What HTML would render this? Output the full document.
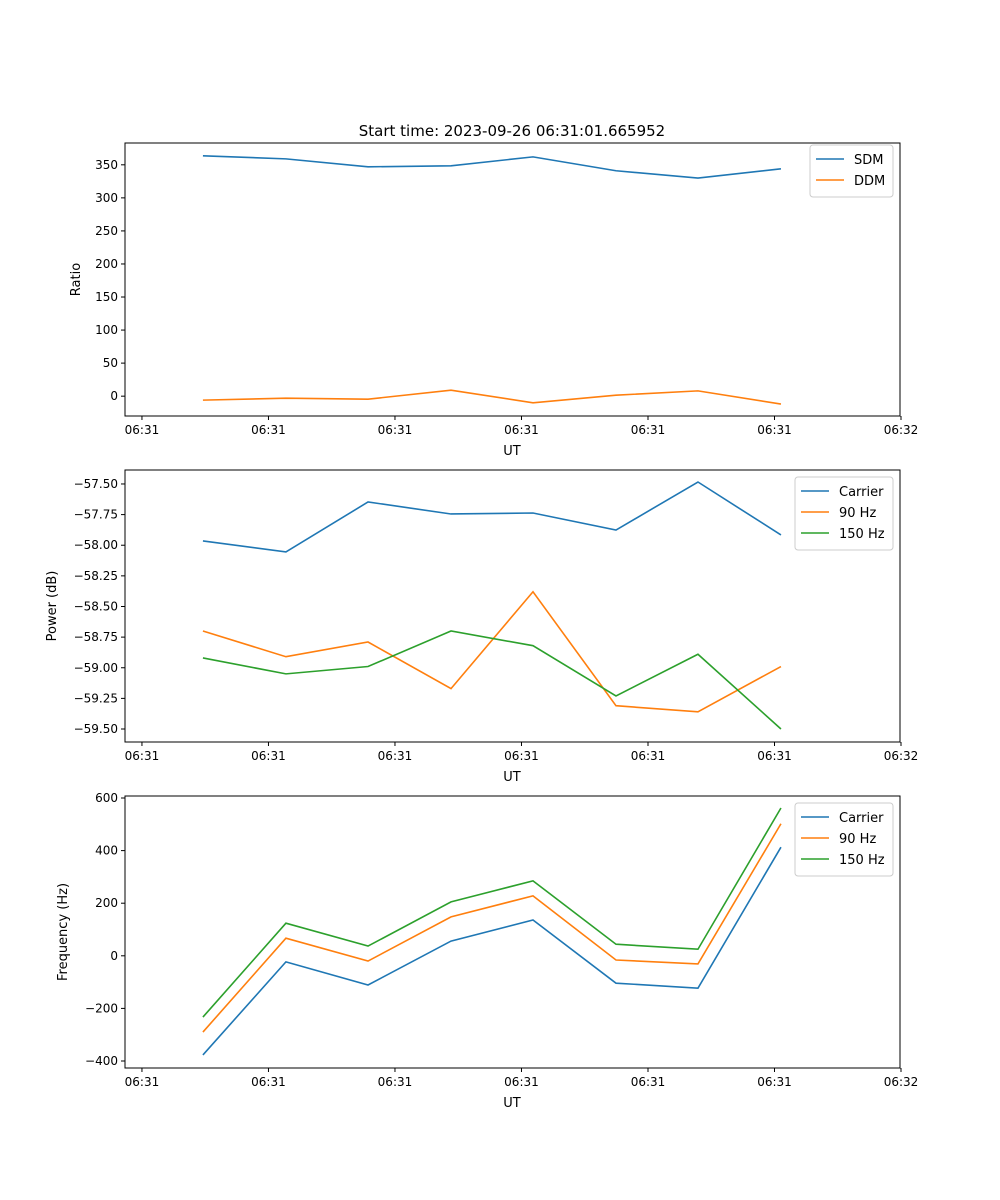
<!DOCTYPE html>
<html><head><meta charset="utf-8"><style>
body{margin:0;background:#fff}
svg{display:block;font-family:"DejaVu Sans","Liberation Sans",sans-serif}
</style></head><body>
<svg id="fig" width="1000" height="1200" viewBox="0 0 1000 1200" xmlns="http://www.w3.org/2000/svg">
<rect width="1000" height="1200" fill="#fff"/>
<text x="512" y="136" font-size="15" text-anchor="middle">Start time: 2023-09-26 06:31:01.665952</text>
</svg>
<script>
const xTicks=[0,1,2,3,4,5,6];
const xTickLabels=["06:31","06:31","06:31","06:31","06:31","06:31","06:32"];
const xVals=[0.482,1.138,1.787,2.443,3.091,3.747,4.395,5.051];
const sdm=[363.6,359,347,348.5,362,341,330,344];
const ddm=[-6,-3,-4.5,9,-10,1.5,8,-12];
const ratioTicks=[0,50,100,150,200,250,300,350];
const powCarrier=[-57.965,-58.055,-57.647,-57.745,-57.737,-57.876,-57.484,-57.916];
const pow90=[-58.70,-58.91,-58.79,-59.17,-58.38,-59.31,-59.36,-58.99];
const pow150=[-58.92,-59.05,-58.99,-58.70,-58.82,-59.23,-58.89,-59.50];
const powTicks=[-59.5,-59.25,-59.0,-58.75,-58.5,-58.25,-58.0,-57.75,-57.5];
const freqCarrier=[-377,-23,-111,56,136,-104,-123,413];
const freq90=[-290,67,-20,148,228,-16,-31,502];
const freq150=[-233,124,37,205,285,44,25,562];
const freqTicks=[-400,-200,0,200,400,600];

const NS="http://www.w3.org/2000/svg";
const svg=document.getElementById('fig');
function mk(tag,attrs,parent){const e=document.createElementNS(NS,tag);for(const k in attrs)e.setAttribute(k,attrs[k]);(parent||svg).appendChild(e);return e;}
const L=125,R=900,XMIN=-0.134,XMAX=5.992;
const xs=v=>L+(v-XMIN)/(XMAX-XMIN)*(R-L);

function panel(name,top,bot,ymin,ymax,yticks,fmt,ylabel,series,legend){
  const ys=v=>bot-(v-ymin)/(ymax-ymin)*(bot-top);
  const g=mk('g',{});
  
  
  series.forEach(s=>{
    const p=mk('polyline',{points:xVals.map((x,i)=>xs(x)+','+ys(s.v[i])).join(' '),fill:'none',stroke:s.c,'stroke-width':1.6},g);
    
    
  });
  const fr=mk('rect',{x:L,y:top,width:R-L,height:bot-top,fill:'none',stroke:'#000','stroke-width':1},g);
  
  
  xTicks.forEach((t,i)=>{
    const x=xs(t);
    mk('line',{x1:x,x2:x,y1:bot,y2:bot+4,stroke:'#000'},g);
    const tx=mk('text',{x:x,y:bot+18,'font-size':12,'text-anchor':'middle'},g);
    tx.textContent=xTickLabels[i];
    
    
  });
  yticks.forEach(t=>{
    const y=ys(t);
    mk('line',{x1:L-4,x2:L,y1:y,y2:y,stroke:'#000'},g);
    const tx=mk('text',{x:L-7,y:y+4,'font-size':12,'text-anchor':'end'},g);
    tx.textContent=fmt(t);
    
    
  });
  const xl=mk('text',{x:512,y:bot+39,'font-size':13,'text-anchor':'middle'},g);
  xl.textContent='UT';
  
  
  const cy=(top+bot)/2;
  const yl=mk('text',{x:0,y:0,'font-size':13,'text-anchor':'middle',transform:`translate(${legend.yx},${cy}) rotate(-90)`},g);
  yl.textContent=ylabel;
  
  
  const lg=mk('g',{},g);
  
  
  mk('rect',{x:legend.x,y:legend.y,width:legend.w,height:series.length*21+10,rx:3,fill:'#fff',stroke:'#ccc'},lg);
  series.forEach((s,i)=>{
    const y=legend.y+14+i*21;
    mk('line',{x1:legend.x+6,x2:legend.x+34,y1:y,y2:y,stroke:s.c,'stroke-width':1.6},lg);
    const t=mk('text',{x:legend.x+44,y:y+5,'font-size':13},lg);
    t.textContent=s.n;
    
    
  });
}
const B='#1f77b4',O='#ff7f0e',G='#2ca02c';
panel('ratio',143,416,-30,383,ratioTicks,v=>String(v),'Ratio',
 [{n:'SDM',v:sdm,c:B},{n:'DDM',v:ddm,c:O}],{x:810,y:145,w:83,yx:80});
panel('power',470,742,-59.606,-57.386,powTicks,v=>'\u2212'.repeat(v<0?1:0)+Math.abs(v).toFixed(2),'Power (dB)',
 [{n:'Carrier',v:powCarrier,c:B},{n:'90 Hz',v:pow90,c:O},{n:'150 Hz',v:pow150,c:G}],{x:795,y:477,w:98,yx:56});
panel('frequency',796,1068,-426.6,607.6,freqTicks,v=>(v<0?'\u2212':'')+Math.abs(v),'Frequency (Hz)',
 [{n:'Carrier',v:freqCarrier,c:B},{n:'90 Hz',v:freq90,c:O},{n:'150 Hz',v:freq150,c:G}],{x:795,y:803,w:98,yx:67});
</script>
</body></html>
